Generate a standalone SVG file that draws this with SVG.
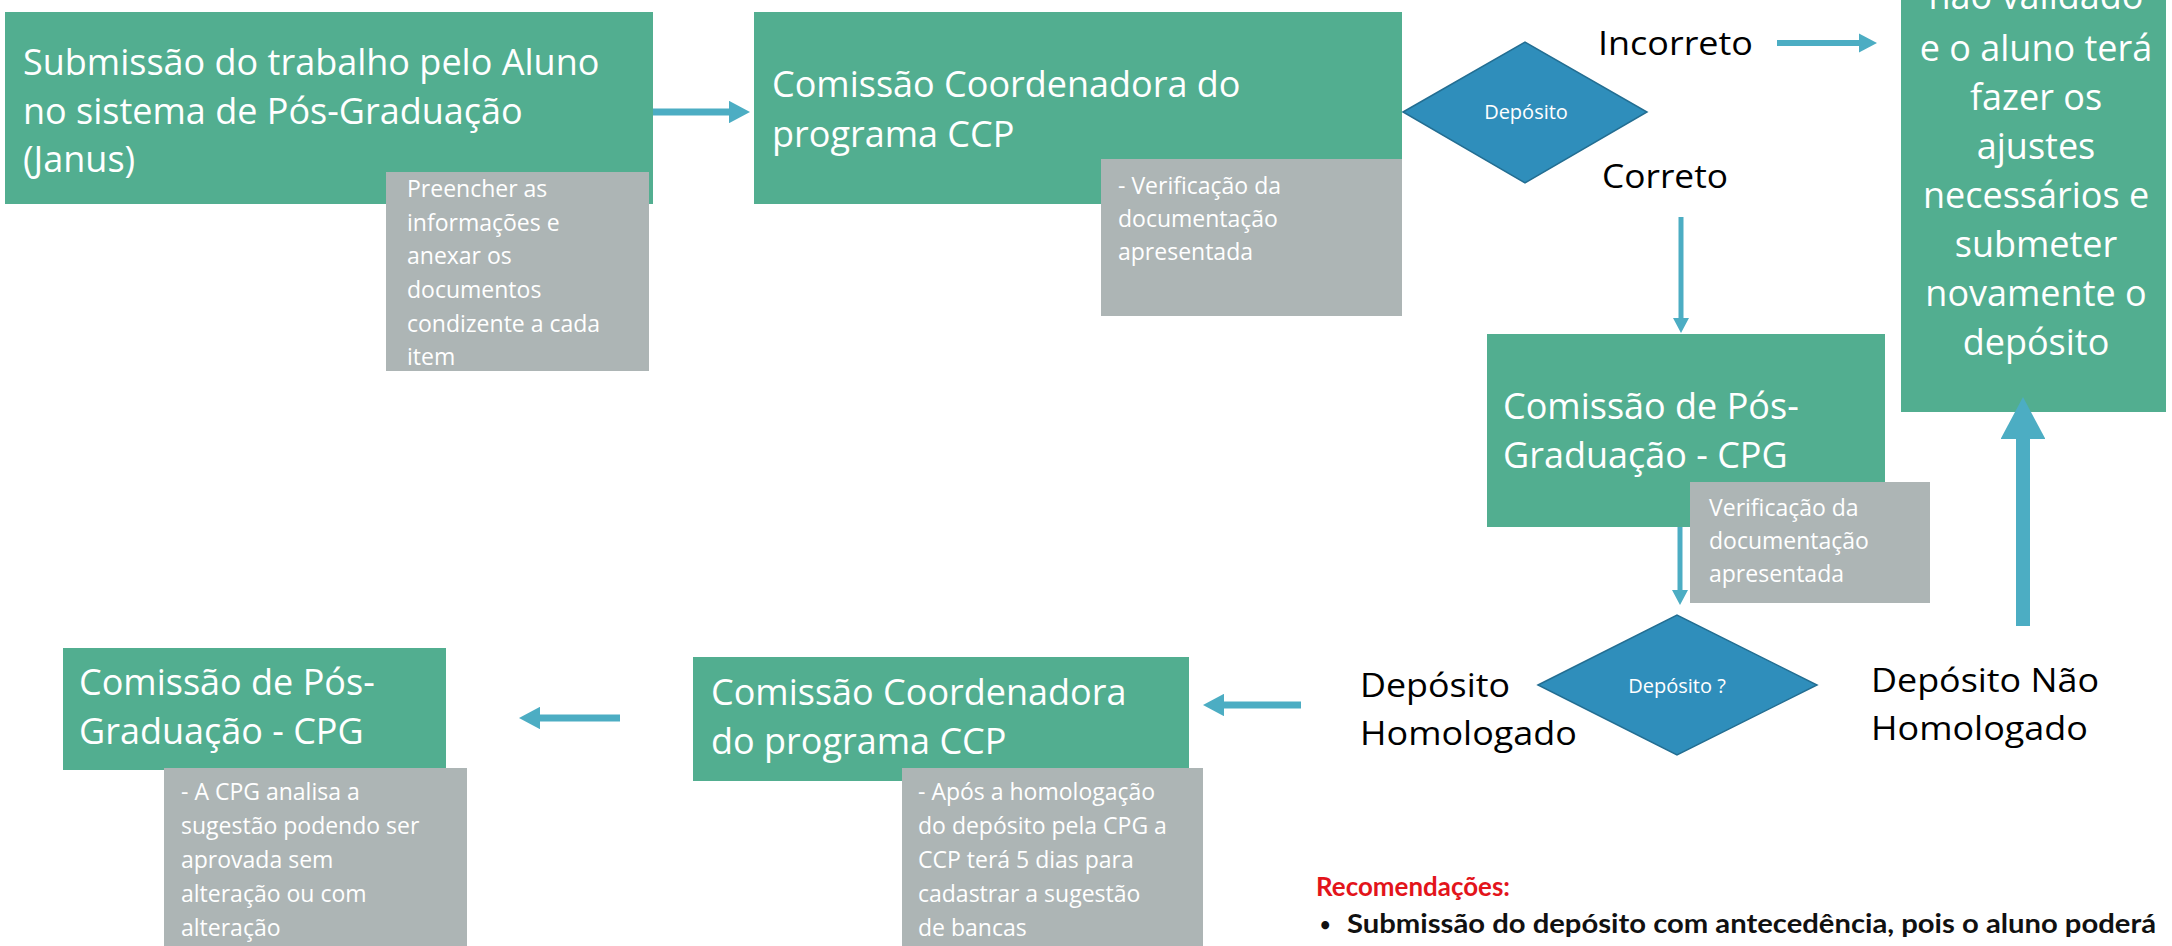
<svg xmlns="http://www.w3.org/2000/svg" width="2172" height="946" viewBox="0 0 2172 946">
<defs>
<style>
.box{fill:#52AE90}
.note{fill:#ADB5B5}
.dec{fill:#2F8EBB;stroke:#236E92;stroke-width:1.5}
.t{font-family:"Open Sans","DejaVu Sans",sans-serif;font-size:36px;fill:#fff}
.tc{font-family:"Open Sans","DejaVu Sans",sans-serif;font-size:36px;fill:#fff;text-anchor:middle}
.n{font-family:"Open Sans","DejaVu Sans",sans-serif;font-size:23px;fill:#fff}
.d{font-family:"Open Sans","DejaVu Sans",sans-serif;font-size:20px;fill:#fff;text-anchor:middle}
.lbl{font-family:"Open Sans","DejaVu Sans",sans-serif;font-size:32px;font-weight:400;fill:#000}
.rec{font-family:Lato,"Liberation Sans",sans-serif;font-size:26px;font-weight:bold}
.arr{fill:none;stroke:#4CADC3;marker-end:url(#ah)}
</style>
<marker id="ah" viewBox="0 0 3 3.2" refX="0" refY="1.6" markerWidth="3" markerHeight="3.2" orient="auto" markerUnits="strokeWidth"><path d="M0,0 L3,1.6 L0,3.2 z" fill="#4CADC3"/></marker>
</defs>
<rect width="2172" height="946" fill="#fff"/>

<g id="n1">
<rect class="box" x="5" y="12" width="648" height="192"/>
<text class="t" x="23" y="75">Submissão do trabalho pelo Aluno</text>
<text class="t" x="23" y="124">no sistema de Pós-Graduação</text>
<text class="t" x="23" y="172">(Janus)</text>
<rect class="note" x="386" y="172" width="263" height="199"/>
<text class="n" x="407" y="197">Preencher as</text>
<text class="n" x="407" y="231">informações e</text>
<text class="n" x="407" y="264">anexar os</text>
<text class="n" x="407" y="298">documentos</text>
<text class="n" x="407" y="332">condizente a cada</text>
<text class="n" x="407" y="365">item</text>
</g>

<g id="n2">
<rect class="box" x="754" y="12" width="648" height="192"/>
<text class="t" x="772" y="97">Comissão Coordenadora do</text>
<text class="t" x="772" y="147">programa CCP</text>
<rect class="note" x="1101" y="159" width="301" height="157"/>
<text class="n" x="1118" y="194">- Verificação da</text>
<text class="n" x="1118" y="227">documentação</text>
<text class="n" x="1118" y="260">apresentada</text>
</g>

<g id="d1">
<polygon class="dec" points="1403,112 1525,42 1647,112 1525,183"/>
<text class="d" x="1526" y="119">Depósito</text>
</g>

<g id="l-incorreto"><text class="lbl" x="1598" y="55" textLength="155" lengthAdjust="spacingAndGlyphs">Incorreto</text></g>
<g id="l-correto"><text class="lbl" x="1602" y="188" textLength="126" lengthAdjust="spacingAndGlyphs">Correto</text></g>

<g id="n3">
<rect class="box" x="1901" y="-10" width="265" height="422"/>
<text class="tc" x="2036" y="9">não validado</text>
<text class="tc" x="2036" y="61">e o aluno terá</text>
<text class="tc" x="2036" y="110">fazer os</text>
<text class="tc" x="2036" y="159">ajustes</text>
<text class="tc" x="2036" y="208">necessários e</text>
<text class="tc" x="2036" y="257">submeter</text>
<text class="tc" x="2036" y="306">novamente o</text>
<text class="tc" x="2036" y="355">depósito</text>
</g>

<g id="n4">
<rect class="box" x="1487" y="334" width="398" height="193"/>
<text class="t" x="1503" y="419">Comissão de Pós-</text>
<text class="t" x="1503" y="468">Graduação - CPG</text>
<rect class="note" x="1690" y="482" width="240" height="121"/>
<text class="n" x="1709" y="516">Verificação da</text>
<text class="n" x="1709" y="549">documentação</text>
<text class="n" x="1709" y="582">apresentada</text>
</g>

<g id="d2">
<polygon class="dec" points="1538,685 1677,615 1817,685 1677,755"/>
<text class="d" x="1677" y="693">Depósito ?</text>
</g>

<g id="l-homologado">
<text class="lbl" x="1360" y="697" textLength="150" lengthAdjust="spacingAndGlyphs">Depósito</text>
<text class="lbl" x="1360" y="745" textLength="217" lengthAdjust="spacingAndGlyphs">Homologado</text>
</g>
<g id="l-nao-homologado">
<text class="lbl" x="1871" y="692" textLength="228" lengthAdjust="spacingAndGlyphs">Depósito Não</text>
<text class="lbl" x="1871" y="740" textLength="217" lengthAdjust="spacingAndGlyphs">Homologado</text>
</g>

<g id="n6">
<rect class="box" x="693" y="657" width="496" height="124"/>
<text class="t" x="711" y="705">Comissão Coordenadora</text>
<text class="t" x="711" y="754">do programa CCP</text>
<rect class="note" x="902" y="768" width="301" height="190"/>
<text class="n" x="918" y="800">- Após a homologação</text>
<text class="n" x="918" y="834">do depósito pela CPG a</text>
<text class="n" x="918" y="868">CCP terá 5 dias para</text>
<text class="n" x="918" y="902">cadastrar a sugestão</text>
<text class="n" x="918" y="936">de bancas</text>
</g>

<g id="n5">
<rect class="box" x="63" y="648" width="383" height="122"/>
<text class="t" x="79" y="695">Comissão de Pós-</text>
<text class="t" x="79" y="744">Graduação - CPG</text>
<rect class="note" x="164" y="768" width="303" height="190"/>
<text class="n" x="181" y="800">- A CPG analisa a</text>
<text class="n" x="181" y="834">sugestão podendo ser</text>
<text class="n" x="181" y="868">aprovada sem</text>
<text class="n" x="181" y="902">alteração ou com</text>
<text class="n" x="181" y="936">alteração</text>
</g>

<g id="recomendacoes">
<text class="rec" x="1316" y="896" fill="#E3141B" textLength="194" lengthAdjust="spacingAndGlyphs">Recomendações:</text>
<text class="rec" x="1320" y="931" fill="#111" style="font-size:18px">•</text>
<text class="rec" x="1347" y="933" fill="#111" textLength="809" lengthAdjust="spacingAndGlyphs">Submissão do depósito com antecedência, pois o aluno poderá</text>
</g>

<g id="connectors">
<path class="arr" stroke-width="7" d="M653,112 H729"/>
<path class="arr" stroke-width="6" d="M1777,43 H1859"/>
<path class="arr" stroke-width="5" d="M1681,217 V318"/>
<path class="arr" stroke-width="5" d="M1680,527 V590"/>
<path class="arr" stroke-width="14" d="M2023,626 V439"/>
<path class="arr" stroke-width="7" d="M1301,705 H1224"/>
<path class="arr" stroke-width="7" d="M620,718 H540"/>
</g>
</svg>
